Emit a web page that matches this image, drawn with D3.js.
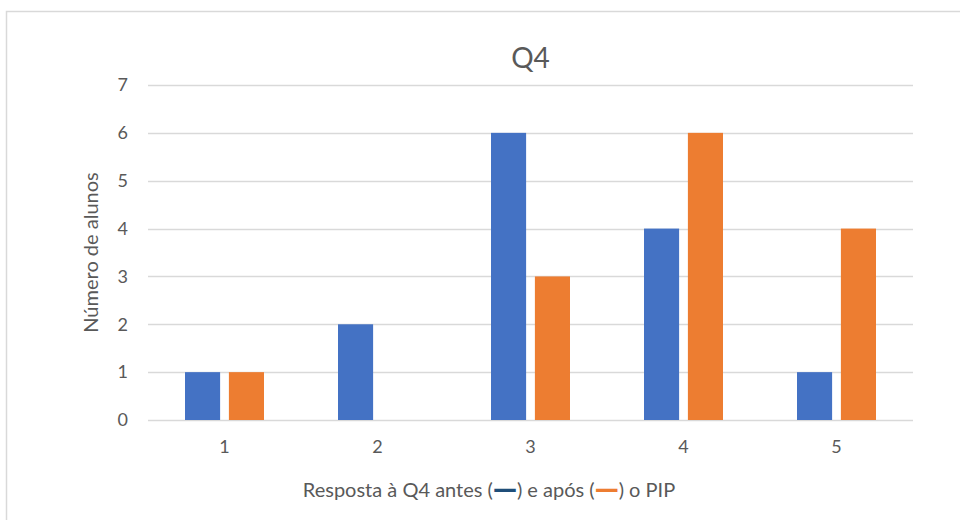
<!DOCTYPE html>
<html>
<head>
<meta charset="utf-8">
<script src="https://cdn.jsdelivr.net/npm/d3@7"></script>
<style>
  html, body { margin: 0; padding: 0; background: #fff; }
  svg text { font-family: Lato, "Open Sans", sans-serif; fill: #595959; }
</style>
</head>
<body>
<svg id="chart" width="960" height="520"></svg>
<script>
// Answer options on the x axis
const categories = ["1", "2", "3", "4", "5"];
// Number of students before and after PIP
const antes = [1, 2, 6, 4, 1];
const apos = [1, 0, 3, 6, 4];
const yTicks = [0, 1, 2, 3, 4, 5, 6, 7];
const seriesNames = ["antes", "apos"];
const seriesColors = ["#4472C4", "#ED7D31"];

const svg = d3.select("#chart");
const FONT = "Lato, 'Open Sans', sans-serif";

// Chart frame (top and left edges)
svg.append("path")
  .attr("d", "M6.5,520 V11.5 H960")
  .attr("fill", "none")
  .attr("stroke", "#d9d9d9")
  .attr("stroke-width", 1.5);

const plot = { left: 148, right: 913, top: 85, bottom: 420 };

const x = d3.scaleBand().domain(categories).range([plot.left, plot.right]);
const x1 = d3.scaleBand().domain(seriesNames).range([37, x.bandwidth() - 37]).paddingInner(0.2);
const y = d3.scaleLinear().domain([0, 7]).range([plot.bottom, plot.top]);

// Horizontal gridlines
svg.append("g").selectAll("line").data(yTicks).join("line")
  .attr("x1", plot.left).attr("x2", plot.right)
  .attr("y1", d => Math.round(y(d)) + 0.5).attr("y2", d => Math.round(y(d)) + 0.5)
  .attr("stroke", "#d9d9d9").attr("stroke-width", 1.3);

// Y axis tick labels
const yAxis = d3.axisLeft(y).tickValues(yTicks).tickFormat(d3.format("d")).tickSize(0).tickPadding(0);
svg.append("g").attr("transform", `translate(${plot.left - 20},0)`).call(yAxis)
  .call(g => g.select(".domain").remove())
  .call(g => g.selectAll("text").attr("font-size", 18).attr("fill", "#595959")
    .style("font-family", FONT));

// X axis tick labels
const xAxis = d3.axisBottom(x).tickSize(0).tickPadding(0);
svg.append("g").attr("transform", `translate(0,${plot.bottom + 20})`).call(xAxis)
  .call(g => g.select(".domain").remove())
  .call(g => g.selectAll("text").attr("font-size", 18).attr("fill", "#595959")
    .style("font-family", FONT));

// Bars
const rows = categories.map((c, i) => ({ cat: c, values: [antes[i], apos[i]] }));
svg.append("g").selectAll("g").data(rows).join("g")
  .attr("transform", d => `translate(${x(d.cat)},0)`)
  .selectAll("rect")
  .data(d => d.values.map((v, j) => ({ key: seriesNames[j], v, color: seriesColors[j] })))
  .join("rect")
  .attr("x", d => x1(d.key))
  .attr("width", x1.bandwidth())
  .attr("y", d => y(d.v))
  .attr("height", d => y(0) - y(d.v))
  .attr("fill", d => d.color);

// Title
svg.append("text")
  .attr("x", (plot.left + plot.right) / 2).attr("y", 68)
  .attr("text-anchor", "middle").attr("font-size", 28)
  .text("Q4");

// Y axis title
svg.append("text")
  .attr("transform", `translate(98,${(plot.top + plot.bottom) / 2}) rotate(-90)`)
  .attr("text-anchor", "middle").attr("font-size", 20)
  .text("Número de alunos");

// X axis title with coloured dash markers
const xt = svg.append("text")
  .attr("x", 489).attr("y", 497)
  .attr("text-anchor", "middle").attr("font-size", 20);
xt.append("tspan").text("Resposta à Q4 antes (");
xt.append("tspan").style("fill", "#1F4E79").style("font-family", "'DejaVu Sans'")
  .attr("font-weight", "bold").attr("font-size", 24).text("—");
xt.append("tspan").text(") e após (");
xt.append("tspan").style("fill", "#ED7D31").style("font-family", "'DejaVu Sans'")
  .attr("font-weight", "bold").attr("font-size", 24).text("—");
xt.append("tspan").text(") o PIP");
</script>
</body>
</html>
